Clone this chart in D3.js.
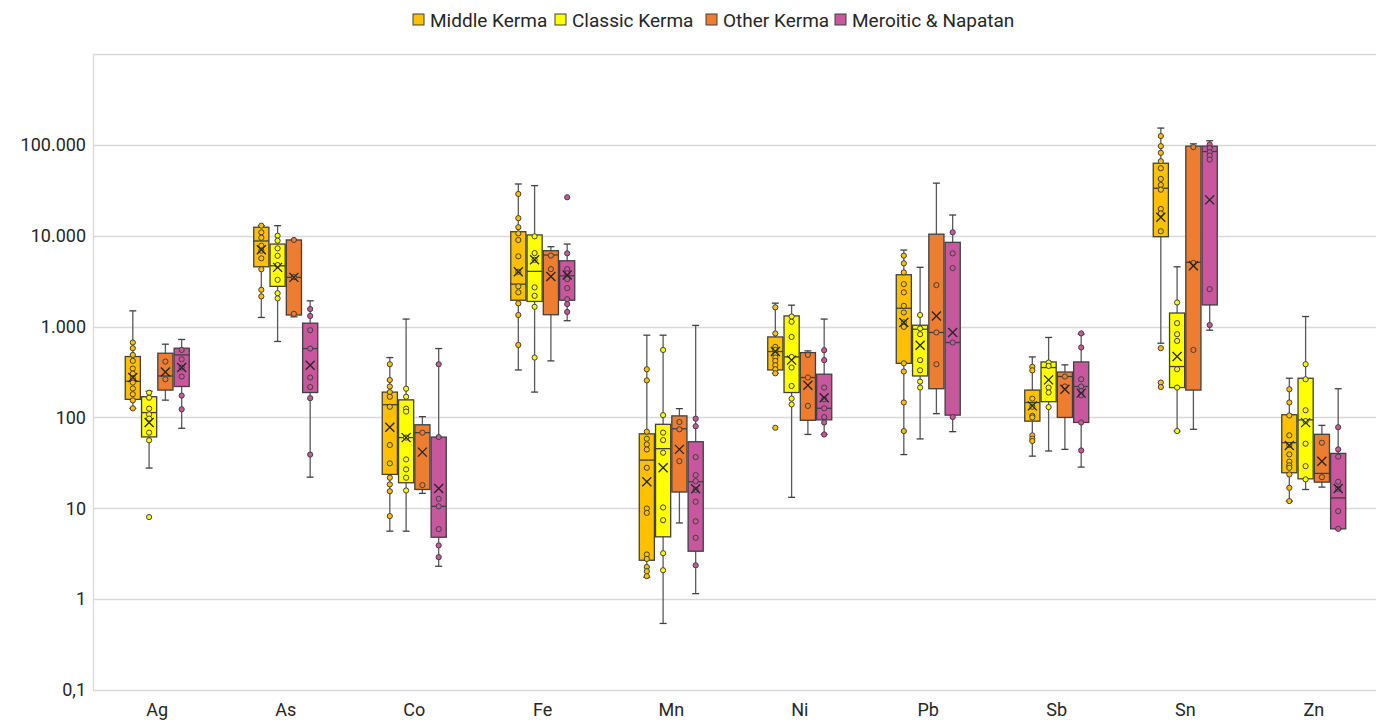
<!DOCTYPE html>
<html>
<head>
<meta charset="utf-8">
<script src="https://cdn.jsdelivr.net/npm/d3@7"></script>
<style>
  body { margin: 0; background: #fff; }
  text { font-family: Roboto, "Noto Sans", sans-serif; }
</style>
</head>
<body>
<script>

var width = 1376,
    height = 723;

var elements = ['Ag', 'As', 'Co', 'Fe', 'Mn', 'Ni', 'Pb', 'Sb', 'Sn', 'Zn'];
var seriesNames = ['Middle Kerma', 'Classic Kerma', 'Other Kerma', 'Meroitic & Napatan'];
var seriesColors = ['#FFC000', '#FFFF00', '#ED7D31', '#C9579D'];

var yTicks = [0.1, 1, 10, 100, 1000, 10000, 100000];
var yTickLabels = ['0,1', '1', '10', '100', '1.000', '10.000', '100.000'];

// per element: [whisker low, q1, median, q3, whisker high, mean]
var middleStats = [
    [126, 158, 250, 468, 1490, 275],
    [1260, 4550, 8750, 12400, 12900, 7010],
    [5.6, 23.6, 138, 190, 456, 78],
    [333, 1950, 2930, 11070, 37100, 4010],
    [1.74, 2.68, 33.9, 66, 804, 19.6],
    [306, 333, 531, 769, 1810, 531],
    [39, 394, 1590, 3720, 6950, 1110],
    [37.5, 91, 146, 200, 463, 134],
    [656, 9750, 33300, 62800, 153000, 15960],
    [12, 24.6, 52.7, 107, 270, 49.2]
];
var classicStats = [
    [27.7, 61, 113, 169, 194, 88],
    [686, 2770, 4670, 8090, 12900, 4480],
    [5.6, 19.1, 60, 156, 1210, 60],
    [190, 1890, 4050, 10200, 35600, 5430],
    [0.54, 4.85, 45.3, 84, 804, 27.9],
    [13.2, 188, 463, 1310, 1720, 427],
    [58, 286, 935, 1035, 4490, 624],
    [42.7, 149, 354, 408, 759, 259],
    [70.8, 213, 363, 1410, 4550, 468],
    [16.1, 21.1, 94, 270, 1290, 87.7]
];
var otherStats = [
    [155, 200, 286, 509, 640, 316],
    [1280, 1340, 3480, 8980, 8980, 3480],
    [14.6, 16.1, 68, 83, 102, 41.5],
    [419, 1350, 6130, 6840, 7570, 3560],
    [6.9, 15.1, 75, 104, 125, 44.5],
    [65, 93, 275, 517, 540, 226],
    [110, 207, 861, 10400, 37900, 1310],
    [44.5, 100, 282, 316, 379, 204],
    [74, 200, 5090, 96800, 102600, 4670],
    [17.1, 19.4, 24.2, 65.2, 81.8, 33]
];
var meroStats = [
    [76, 219, 488, 578, 721, 354],
    [22, 188, 573, 1090, 1920, 375],
    [2.3, 4.8, 10.5, 60.8, 573, 16.5],
    [1160, 1950, 3620, 5300, 8090, 3690],
    [1.15, 3.37, 19.6, 54, 1030, 16.4],
    [65, 94, 126, 299, 1210, 165],
    [69.7, 106, 668, 8450, 16900, 861],
    [28.4, 88, 219, 408, 824, 185],
    [912, 1730, 84400, 96800, 111000, 24800],
    [5.94, 5.94, 13, 40.2, 207, 16.5]
];

// individual samples per element
var middlePts = [
    [668, 578, 488, 419, 345, 304, 270, 242, 208, 180, 154, 126],
    [12900, 10900, 9500, 7760, 6840, 5640, 4270, 2540, 2150],
    [385, 258, 219, 190, 169, 131, 49.7, 31.2, 21.7, 18.3, 15.4, 8.2],
    [28800, 15600, 12400, 10600, 8970, 5930, 4010, 2770, 2380, 1800, 1340, 628],
    [339, 256, 69.7, 58.3, 50.5, 44.4, 27.9, 9.95, 8.9, 3.1, 2.77, 2.26, 2.03, 1.79],
    [1630, 840, 597, 553, 497, 456, 419, 375, 339, 306, 77],
    [6030, 4970, 3950, 2930, 2380, 1690, 1430, 1110, 993, 394, 320, 146, 70.8],
    [360, 330, 161, 131, 104, 100, 63.5, 58.4, 55],
    [125000, 96800, 81700, 66100, 55300, 42200, 36200, 32100, 19700, 17600, 11200, 578, 242, 216],
    [204, 146, 105, 63.5, 49.7, 39.2, 32.6, 29.7, 27.9, 23.6, 16.8, 12]
];
var classicPts = [
    [187, 165, 125, 108, 97, 68, 56, 8],
    [10000, 8810, 7260, 6010, 4750, 3270, 2330, 2040],
    [207, 169, 125, 116, 60, 34.5, 26.8, 21.7, 15.7],
    [9840, 6440, 5430, 2700, 2180, 1650, 456],
    [553, 106, 68, 56.3, 40.9, 10.2, 7.4, 3.2, 2.08],
    [1290, 1130, 769, 463, 354, 222, 161, 139],
    [1340, 952, 824, 427, 330, 248, 213],
    [402, 369, 213, 188, 130],
    [1840, 1090, 824, 695, 339, 213, 70.8],
    [385, 263, 120, 91, 51.4, 29.1, 20.8]
];
var otherPts = [
    [412, 263],
    [8980, 3500, 1380],
    [68, 18],
    [6050, 4290],
    [89, 74, 33],
    [488, 275, 134],
    [2860, 861, 385],
    [282, 219],
    [94400, 5010, 553],
    [52.7, 22]
];
var meroPts = [
    [553, 437, 354, 282, 174, 123],
    [1560, 1310, 912, 573, 275, 216, 163, 39],
    [385, 60.8, 12.7, 10.5, 5.9, 3.9, 2.9],
    [26500, 6390, 4290, 3850, 3330, 2650, 2000, 1770, 1450],
    [97, 80, 36.6, 23.2, 19.9, 15.9, 11.8, 7.2, 4.73, 2.36],
    [550, 427, 213, 158, 126, 101, 88, 65],
    [10900, 6390, 4400, 668, 101],
    [840, 589, 263, 219, 195, 175, 88, 43.3],
    [101000, 92000, 83100, 76300, 68900, 2580, 1040],
    [78, 44.5, 37, 19.6, 16.4, 9.3, 5.94]
];

var allStats = [middleStats, classicStats, otherStats, meroStats];
var allPts = [middlePts, classicPts, otherPts, meroPts];

var plotLeft = 93, plotRight = 1378, plotTop = 54, plotBottom = 690;

var svg = d3.select('body')
    .append('svg')
    .attr('width', width)
    .attr('height', height);

var x = d3.scaleBand()
    .domain(elements)
    .range([plotLeft, plotRight]);

var xs = d3.scaleBand()
    .domain(seriesNames)
    .range([-32, 32])
    .paddingInner(0.07);

var y = d3.scaleLog()
    .domain([0.1, 1000000])
    .range([plotBottom, plotTop]);

// grid
svg.append('g')
    .selectAll('line')
    .data(yTicks.concat([1000000]))
    .enter()
    .append('line')
    .attr('x1', plotLeft)
    .attr('x2', plotRight)
    .attr('y1', function(d) { return Math.round(y(d)) + 0.5; })
    .attr('y2', function(d) { return Math.round(y(d)) + 0.5; })
    .style('stroke', '#d9d9d9')
    .style('stroke-width', 1.3);

svg.append('line')
    .attr('x1', plotLeft + 0.5).attr('x2', plotLeft + 0.5)
    .attr('y1', plotTop).attr('y2', plotBottom)
    .style('stroke', '#d9d9d9')
    .style('stroke-width', 1.3);

// y labels
var yAxis = d3.axisLeft(y)
    .tickValues(yTicks)
    .tickSize(0)
    .tickPadding(7)
    .tickFormat(function(d, i) { return yTickLabels[i]; });

var gy = svg.append('g')
    .attr('transform', 'translate(' + plotLeft + ',0)')
    .call(yAxis);
gy.select('.domain').remove();
gy.selectAll('text')
    .style('font-size', '18px')
    .style('font-family', 'Roboto, sans-serif')
    .style('fill', '#262626');

// x labels
var xAxis = d3.axisBottom(x).tickSize(0).tickPadding(13);
var gx = svg.append('g')
    .attr('transform', 'translate(0,' + plotBottom + ')')
    .call(xAxis);
gx.select('.domain').remove();
gx.selectAll('text')
    .style('font-size', '18px')
    .style('font-family', 'Roboto, sans-serif')
    .style('fill', '#262626');

var bw = xs.bandwidth();

seriesNames.forEach(function(name, si) {
    var color = seriesColors[si];
    var rows = allStats[si].map(function(s, ei) {
        return {
            el: elements[ei], lo: s[0], q1: s[1], med: s[2], q3: s[3], hi: s[4], mean: s[5],
            pts: allPts[si][ei]
        };
    });

    var g = svg.append('g').classed('series-' + si, true);

    var box = g.selectAll('g.box')
        .data(rows)
        .enter()
        .append('g')
        .classed('box', true)
        .attr('transform', function(d) {
            return 'translate(' + (x(d.el) + x.bandwidth() / 2 + xs(name)) + ',0)';
        });

    // whiskers
    box.append('line')
        .attr('x1', bw / 2).attr('x2', bw / 2)
        .attr('y1', function(d) { return y(d.hi); })
        .attr('y2', function(d) { return y(d.lo); })
        .style('stroke', '#595959')
        .style('stroke-width', 1.3);

    ['hi', 'lo'].forEach(function(k) {
        box.append('line')
            .attr('x1', bw / 2 - 3.5).attr('x2', bw / 2 + 3.5)
            .attr('y1', function(d) { return y(d[k]); })
            .attr('y2', function(d) { return y(d[k]); })
            .style('stroke', '#404040')
            .style('stroke-width', 1.3);
    });

    box.append('rect')
        .attr('x', 0)
        .attr('width', bw)
        .attr('y', function(d) { return y(d.q3); })
        .attr('height', function(d) { return Math.max(1, y(d.q1) - y(d.q3)); })
        .style('fill', color)
        .style('stroke', '#404040')
        .style('stroke-width', 1.3);

    box.append('line')
        .attr('x1', 0).attr('x2', bw)
        .attr('y1', function(d) { return y(d.med); })
        .attr('y2', function(d) { return y(d.med); })
        .style('stroke', '#404040')
        .style('stroke-width', 1.3);

    // points
    box.selectAll('circle')
        .data(function(d) { return d.pts; })
        .enter()
        .append('circle')
        .attr('cx', bw / 2)
        .attr('cy', function(d) { return y(d); })
        .attr('r', 2.6)
        .style('fill', color)
        .style('stroke', '#404040')
        .style('stroke-width', 1);

    // mean marker
    box.append('path')
        .attr('d', function(d) {
            var cx = bw / 2, cy = y(d.mean), s = 4.5;
            return 'M' + (cx - s) + ',' + (cy - s) + 'L' + (cx + s) + ',' + (cy + s) +
                'M' + (cx - s) + ',' + (cy + s) + 'L' + (cx + s) + ',' + (cy - s);
        })
        .style('stroke', '#262626')
        .style('stroke-width', 1.3)
        .style('fill', 'none');
});

// legend (item offsets follow the reference layout)
var legendX = [413, 555, 706, 835];
var legend = svg.append('g').attr('transform', 'translate(0,20)');
seriesNames.forEach(function(name, i) {
    var item = legend.append('g').attr('transform', 'translate(' + legendX[i] + ',0)');
    item.append('rect')
        .attr('x', 0).attr('y', -6)
        .attr('width', 11).attr('height', 11)
        .style('fill', seriesColors[i])
        .style('stroke', '#404040')
        .style('stroke-width', 1);
    item.append('text')
        .attr('x', 17)
        .attr('y', 6.5)
        .style('font-size', '19px')
        .style('fill', '#262626')
        .text(name);
});

</script>
</body>
</html>
